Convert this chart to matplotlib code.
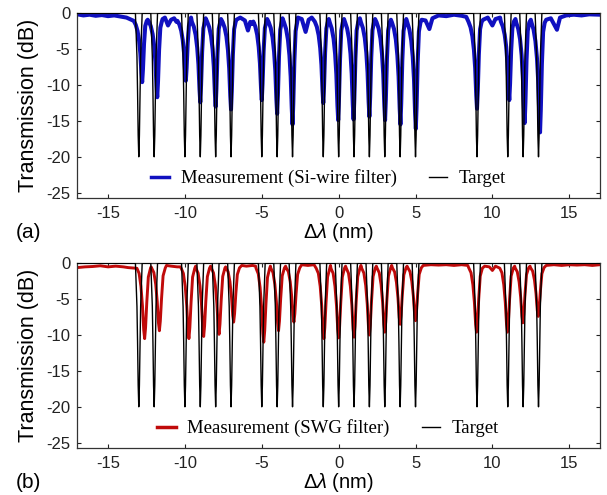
import numpy as np
import matplotlib
matplotlib.use("Agg")
import matplotlib.pyplot as plt

plt.rcParams['font.family'] = ['Liberation Sans', 'DejaVu Sans']
plt.rcParams['mathtext.fontset'] = 'custom'
plt.rcParams['mathtext.rm'] = 'Liberation Sans'
plt.rcParams['mathtext.it'] = 'Liberation Sans:italic'

# notch positions of the target comb (nm)
notch_nm = [-13, -12, -10, -9, -8, -7, -5, -4, -3, -1, 0, 1, 2, 3, 4, 5, 9, 11, 12, 13]
target_depth_db = -20.0

# measured notch minima (dB) and offsets of the measured minima (nm)
si_depth_db = [-9.6, -11.7, -9.4, -12.4, -13.0, -13.4, -12.1, -14.0, -15.5, -12.5,
               -14.9, -14.8, -14.4, -14.9, -15.5, -16.1, -13.3, -12.1, -15.3, -16.6]
si_shift_nm = [0.22, 0.20, 0.06, 0.0, 0.0, 0.0, 0.0, 0.0, 0.0, 0.0,
               -0.03, -0.03, 0.0, 0.02, 0.02, 0.02, 0.0, 0.10, 0.10, 0.10]
swg_depth_db = [-10.5, -9.4, -10.5, -10.2, -9.9, -8.2, -11.0, -9.4, -8.2, -10.5,
                -10.4, -10.3, -10.0, -9.6, -8.5, -8.0, -9.6, -9.6, -8.3, -7.4]
swg_shift_nm = [0.38, 0.34, 0.26, 0.22, 0.22, 0.17, 0.13, 0.09, 0.09, 0.04,
                0.0, 0.0, 0.0, 0.0, 0.0, 0.0, -0.03, -0.02, -0.02, -0.02]

# notch shapes: offset (nm) and fraction of the depth
target_off = [-0.22, -0.12, -0.08, -0.04, 0.0, 0.04, 0.08, 0.12, 0.22]
target_frac = [0.0, 0.3, 0.55, 0.85, 1.0, 0.85, 0.55, 0.3, 0.0]
si_off = [-0.55, -0.42, -0.3, -0.2, -0.12, -0.05, 0.0, 0.05, 0.12, 0.2, 0.3]
si_frac = [0.04, 0.1, 0.2, 0.35, 0.55, 0.85, 1.0, 0.8, 0.4, 0.12, 0.04]
swg_off = [-0.5, -0.36, -0.24, -0.14, -0.06, 0.0, 0.06, 0.14, 0.24, 0.38]
swg_frac = [0.03, 0.1, 0.28, 0.55, 0.88, 1.0, 0.85, 0.5, 0.15, 0.03]
si_level_db = -0.7
swg_level_db = -0.4

# measured level between notches (nm, dB)
si_gap_nm = [-17, -16.6, -16.2, -15.8, -15.4, -15.0, -14.6, -14.2, -13.8,
             -12.42, -11.45, -11.3, -11.1, -10.9, -10.7, -10.55, -9.6, -8.65, -7.65,
             -6.65, -6.4, -6.1, -5.9, -5.75, -5.6, -4.65, -3.65,
             -2.65, -2.4, -2.15, -1.95, -1.75, -1.55, -0.64, 0.35, 1.38, 2.37, 3.4, 4.4,
             5.4, 5.65, 5.9, 6.1, 6.5, 7.0, 7.5, 8.0, 8.3,
             9.4, 9.7, 10.0, 10.2, 10.5, 11.5, 12.5,
             13.5, 13.8, 14.2, 14.4, 14.8, 15.3, 15.8, 16.3, 17]
si_gap_db = [-0.15, -0.3, -0.2, -0.35, -0.25, -0.4, -0.3, -0.45, -0.6,
             -0.9, -0.8, -0.6, -1.7, -0.9, -0.7, -1.2, -0.6, -0.7, -0.8,
             -0.9, -0.6, -1.0, -2.4, -1.2, -1.5, -0.8, -0.7,
             -0.6, -0.8, -2.6, -0.9, -0.6, -1.0, -0.8, -0.8, -0.7, -0.8, -0.9, -0.8,
             -0.9, -1.0, -2.2, -0.7, -0.3, -0.4, -0.2, -0.35, -0.5,
             -0.9, -0.6, -1.7, -0.8, -0.6, -0.8, -0.9,
             -0.9, -0.7, -2.3, -0.6, -0.3, -0.2, -0.3, -0.15, -0.2]
swg_gap_nm = [-17, -16.5, -16, -15.5, -15, -14.5, -14, -13.7,
              -12.2, -11.2, -10.9, -10.5, -10.3, -9.3, -8.33, -7.35,
              -6.3, -6.0, -5.6, -5.4, -4.44, -3.45, -2.4, -2.0, -1.6, -0.53,
              0.45, 1.45, 2.45, 3.45, 4.45,
              5.5, 6.0, 6.5, 7.0, 7.5, 8.0, 8.4,
              9.5, 9.8, 10.0, 10.2, 10.5, 11.45, 12.45,
              13.5, 14.0, 14.5, 15.0, 15.5, 16.0, 16.5, 17]
swg_gap_db = [-0.6, -0.5, -0.45, -0.35, -0.5, -0.4, -0.5, -0.6,
              -0.5, -0.3, -0.4, -0.5, -0.5, -0.4, -0.4, -0.5,
              -0.3, -0.4, -0.3, -0.4, -0.4, -0.4, -0.2, -0.3, -0.2, -0.3,
              -0.4, -0.3, -0.4, -0.3, -0.4,
              -0.3, -0.2, -0.25, -0.2, -0.3, -0.2, -0.3,
              -0.4, -0.5, -1.0, -0.4, -0.3, -0.4, -0.4,
              -0.3, -0.2, -0.3, -0.2, -0.25, -0.2, -0.3, -0.2]


def trace(centers, depths, shifts, off, frac, level, gap_x, gap_y):
    xs, ys = [], []
    windows = []
    for c, d, s in zip(centers, depths, shifts):
        m = c + s
        windows.append((m + off[0], m + off[-1]))
        for o, f in zip(off, frac):
            xs.append(m + o)
            ys.append(level + f * (d - level))
    for gx, gy in zip(gap_x, gap_y):
        if not any(a <= gx <= b for a, b in windows):
            xs.append(gx)
            ys.append(gy)
    order = np.argsort(xs)
    return np.array(xs)[order], np.array(ys)[order]


tx, ty = trace(notch_nm, [target_depth_db] * len(notch_nm), [0.0] * len(notch_nm),
               target_off, target_frac, 0.0, [-17, 17], [0.0, 0.0])
sx, sy = trace(notch_nm, si_depth_db, si_shift_nm, si_off, si_frac, si_level_db,
               si_gap_nm, si_gap_db)
wx, wy = trace(notch_nm, swg_depth_db, swg_shift_nm, swg_off, swg_frac, swg_level_db,
               swg_gap_nm, swg_gap_db)

fig = plt.figure(figsize=(6.07, 4.95), dpi=100)
W, H = 607, 495
panels = [
    (197.7, sx, sy, "#1010c0", 2.9, "Measurement (Si-wire filter)", "(a)"),
    (447.7, wx, wy, "#c00a0a", 2.1, "Measurement (SWG filter)", "(b)"),
]
for bottom_px, mx, my, col, lw, lab, tag in panels:
    ax = fig.add_axes([77.3 / W, 1 - bottom_px / H, (600 - 77.3) / W, 185.0 / H])
    ax.plot(mx, my, color=col, lw=lw, label=lab, zorder=2)
    ax.plot(tx, ty, color="black", lw=1.0, label="Target", zorder=3)
    ax.set_xlim(-17, 17)
    ax.set_ylim(-25.7, 0.08)
    ax.set_xticks([-15, -10, -5, 0, 5, 10, 15])
    ax.set_yticks([0, -5, -10, -15, -20, -25])
    ax.set_yticklabels(["0", "-5", "-10", "-15", "-20", "-25"])
    ax.set_xticklabels(["-15", "-10", "-5", "0", "5", "10", "15"])
    ax.tick_params(direction="in", length=3, width=0.8, top=True, right=True,
                   labelsize=12, colors="#222222", pad=5)
    ax.tick_params(axis="x", pad=6)
    for sp in ax.spines.values():
        sp.set_color("#333333")
        sp.set_linewidth(0.9)
    ax.set_xlabel(r"$\Delta\mathit{\lambda}$ (nm)", fontsize=14.5, labelpad=0)
    ax.set_ylabel("Transmission (dB)", fontsize=15.5, labelpad=5)
    leg = ax.legend(loc="center", bbox_to_anchor=(0.48, 0.105), ncol=2, frameon=False,
                    handlelength=1.0, columnspacing=1.7, handletextpad=0.6,
                    prop={"family": "Liberation Serif", "size": 13.5})
    for h in leg.legend_handles:
        h.set_linewidth(2.5 if h.get_color() != "black" else 1.0)
    fig.text(16 / W, 1 - (bottom_px + 35) / H, tag, fontsize=15, va="center", ha="left")

fig.savefig("out.png", dpi=100)
